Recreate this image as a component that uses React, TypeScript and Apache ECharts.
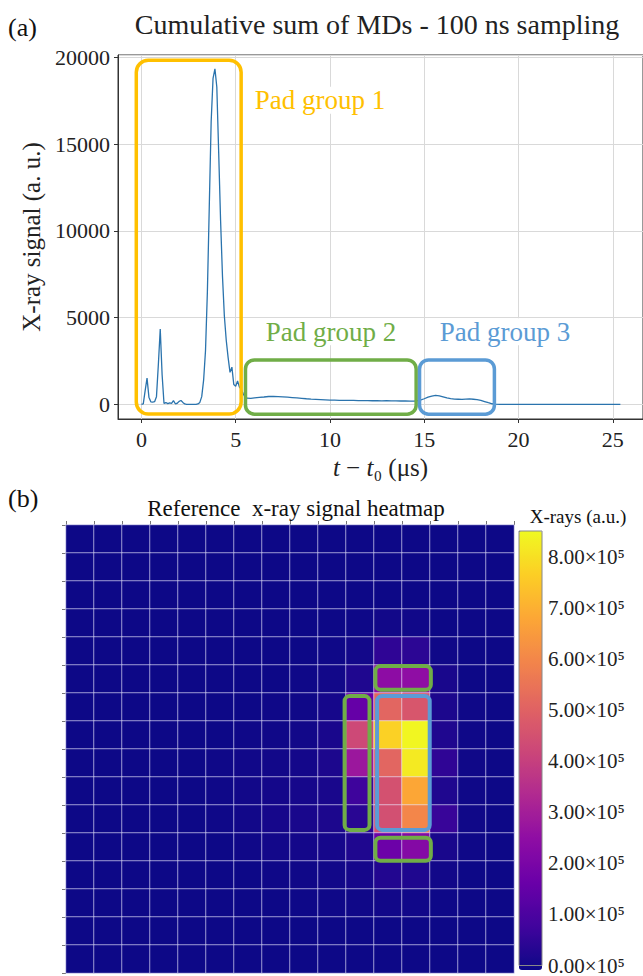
import React, { useEffect, useRef } from "react";
import * as echarts from "echarts";

const FONT = "Liberation Serif";

// ---- (a) cumulative sum of MDs, 100 ns sampling ----
const timeUs = [
  0.0, 0.1, 0.2, 0.3, 0.4, 0.5, 0.6, 0.7, 0.8, 0.9,
  1.0, 1.1, 1.2, 1.3, 1.4, 1.5, 1.6, 1.7, 1.8, 1.9,
  2.0, 2.1, 2.2, 2.3, 2.4, 2.5, 2.6, 2.7, 2.8, 2.9,
  3.0, 3.1, 3.2, 3.3, 3.4, 3.5, 3.6, 3.7, 3.8, 3.9,
  4.0, 4.1, 4.2, 4.3, 4.4, 4.5, 4.6, 4.7, 4.8, 4.9,
  5.0, 5.1, 5.2, 5.3, 5.4, 5.5, 5.6, 5.8, 6.0, 6.25,
  6.5, 6.75, 7.0, 7.25, 7.5, 7.75, 8.0, 8.25, 8.5, 8.75,
  9.0, 9.25, 9.5, 9.75, 10.0, 10.25, 10.5, 10.75, 11.0, 11.25,
  11.5, 11.75, 12.0, 12.25, 12.5, 12.75, 13.0, 13.25, 13.5, 13.75,
  14.0, 14.25, 14.5, 14.75, 15.0, 15.2, 15.4, 15.6, 15.8, 16.0,
  16.2, 16.4, 16.6, 16.8, 17.0, 17.2, 17.4, 17.6, 17.8, 18.0,
  18.2, 18.4, 18.6, 18.8, 19.0, 19.5, 20.0, 20.5, 21.0, 21.5,
  22.0, 22.5, 23.0, 23.5, 24.0, 24.5, 25.0, 25.4,
];
const xraySignal = [
  0, 30, 800, 1520, 420, 150, 130, 160, 450, 2300,
  4350, 1700, 60, 110, 50, 90, 60, 220, 40, 70,
  180, 230, 120, 30, 10, 0, 0, 10, 0, 0,
  30, 120, 450, 1400, 3100, 6500, 11400, 16300, 18800, 19350,
  18300, 14500, 10600, 7400, 5100, 3700, 2700, 1850, 2150, 1150,
  1050, 1350, 1000, 870, 620, 420, 360, 350, 380, 410,
  430, 460, 470, 455, 440, 420, 400, 380, 355, 330,
  310, 295, 280, 265, 250, 245, 240, 235, 230, 235,
  225, 220, 225, 215, 220, 210, 215, 205, 210, 200,
  205, 195, 200, 230, 330, 420, 480, 520, 500, 440,
  380, 340, 310, 300, 290, 310, 320, 300, 280, 240,
  170, 100, 40, 15, 5, 0, 0, 0, 0, 0,
  0, 0, 0, 0, 0, 0, 0, 0,
];
const timeTicks = [0, 5, 10, 15, 20, 25];
const signalTicks = [0, 5000, 10000, 15000, 20000];

// pad-group annotation boxes in data units: [t0, t1, vTop, vBottom]
const padGroupNames = ["Pad group 1", "Pad group 2", "Pad group 3"];
const padGroupColors = ["#FFC000", "#70AD47", "#5B9BD5"];
const padGroupBoxes = [
  [-0.27, 5.29, 19840, -550],
  [5.52, 14.57, 2570, -560],
  [14.75, 18.72, 2570, -560],
];
const padGroupLabelAt = [
  [5.91, 17540],
  [6.49, 4190],
  [15.72, 4190],
];

// ---- (b) reference x-ray heatmap, 16 x 16 pads, values in units of 1e5 ----
const padCols = ["0", "1", "2", "3", "4", "5", "6", "7", "8", "9", "10", "11", "12", "13", "14", "15"];
const padRows = ["0", "1", "2", "3", "4", "5", "6", "7", "8", "9", "10", "11", "12", "13", "14", "15"];
const xrayCells = [
  [0, 0, 0, 0, 0, 0, 0, 0, 0, 0, 0, 0, 0, 0, 0, 0],
  [0, 0, 0, 0, 0, 0, 0, 0, 0, 0, 0, 0, 0, 0, 0, 0],
  [0, 0, 0, 0, 0, 0, 0, 0, 0, 0, 0, 0, 0, 0, 0, 0],
  [0, 0, 0, 0, 0, 0, 0, 0, 0, 0, 0.02, 0.08, 0.06, 0, 0, 0],
  [0, 0, 0, 0, 0, 0, 0, 0, 0, 0.03, 0.1, 0.55, 0.5, 0.05, 0, 0],
  [0, 0, 0, 0, 0, 0, 0, 0, 0.03, 0.08, 0.3, 2.5, 2.55, 0.2, 0, 0],
  [0, 0, 0, 0, 0, 0, 0, 0.03, 0.05, 0.15, 1.6, 5.15, 4.7, 0.25, 0.03, 0],
  [0, 0, 0, 0, 0, 0, 0.04, 0.05, 0.08, 0.2, 4.3, 7.7, 8.45, 0.3, 0.04, 0],
  [0, 0, 0, 0, 0, 0.03, 0.06, 0.08, 0.12, 0.25, 2.85, 5.15, 8.2, 0.55, 0.05, 0],
  [0, 0, 0, 0, 0, 0.03, 0.08, 0.12, 0.15, 0.2, 0.8, 4.55, 6.8, 0.3, 0.04, 0],
  [0, 0, 0, 0, 0, 0.03, 0.08, 0.15, 0.2, 0.25, 0.45, 4.5, 6.0, 0.7, 0.05, 0],
  [0, 0, 0, 0, 0, 0, 0.05, 0.1, 0.12, 0.15, 0.3, 1.75, 2.3, 0.2, 0.03, 0],
  [0, 0, 0, 0, 0, 0, 0, 0.04, 0.05, 0.08, 0.15, 0.35, 0.3, 0.08, 0, 0],
  [0, 0, 0, 0, 0, 0, 0, 0, 0.02, 0.03, 0.05, 0.08, 0.06, 0.02, 0, 0],
  [0, 0, 0, 0, 0, 0, 0, 0, 0, 0, 0, 0, 0, 0, 0, 0],
  [0, 0, 0, 0, 0, 0, 0, 0, 0, 0, 0, 0, 0, 0, 0, 0],
];
const colorbarMax = 8.5;
const colorbarTicks = [0, 1, 2, 3, 4, 5, 6, 7, 8];
const plasma = [
  "#0d0887", "#41049d", "#6a00a8", "#8f0da4", "#b12a90", "#cc4778",
  "#e16462", "#f2844b", "#fca636", "#fcce25", "#f0f921",
];
// heatmap boxes in cell units: [col0, col1, row0, row1, colorIndex]
const heatBoxes = [
  [11.05, 13.03, 5.04, 5.88, 1],
  [9.95, 10.84, 6.11, 10.89, 1],
  [11.11, 12.99, 6.11, 10.89, 2],
  [11.05, 13.03, 11.17, 11.99, 1],
];

export default function App() {
  const ref = useRef<HTMLDivElement>(null);
  useEffect(() => {
    const chart = echarts.init(ref.current!, null, { renderer: "svg" });
    const heatData: number[][] = [];
    xrayCells.forEach((row, r) => row.forEach((v, c) => heatData.push([c, r, v])));
    const axisFont = { fontFamily: FONT, fontSize: 22, color: "#222" };
    chart.setOption({
      animation: false,
      backgroundColor: "#fff",
      textStyle: { fontFamily: FONT },
      grid: [
        { left: 118, top: 55, width: 527, height: 364, show: true, borderColor: "#333", borderWidth: 1 },
        { left: 66, top: 525, width: 448, height: 448 },
        { left: 519, top: 531, width: 23, height: 439 },
      ],
      xAxis: [
        {
          gridIndex: 0, type: "value", min: -1.24, max: 26.6,
          axisLine: { show: true, onZero: false, lineStyle: { color: "#333" } },
          axisTick: { show: true, length: 4, lineStyle: { color: "#333" } },
          axisLabel: {
            ...axisFont, margin: 9, showMinLabel: false, showMaxLabel: false,
            formatter: (v: number) => (timeTicks.includes(v) ? String(v) : ""),
          },
          splitLine: { show: true, lineStyle: { color: "#d9d9d9", width: 1 } },
          name: "{i|t} − {i|t}₀ (μs)",
          nameLocation: "middle", nameGap: 36,
          nameTextStyle: { fontFamily: FONT, fontSize: 25, color: "#222", rich: { i: { fontFamily: FONT, fontSize: 25, fontStyle: "italic", color: "#222" } } },
        },
        {
          gridIndex: 1, type: "category", data: padCols, position: "top",
          axisLine: { show: false }, axisLabel: { show: false },
          axisTick: { show: true, length: 4, lineStyle: { color: "#777" } },
          splitLine: { show: false },
        },
        { gridIndex: 2, type: "value", min: 0, max: 1, show: false },
      ],
      yAxis: [
        {
          gridIndex: 0, type: "value", min: -838, max: 20145,
          axisLine: { show: true, onZero: false, lineStyle: { color: "#333" } },
          axisTick: { show: true, length: 4, lineStyle: { color: "#333" } },
          axisLabel: {
            ...axisFont, margin: 8, showMinLabel: false, showMaxLabel: false,
            formatter: (v: number) => (signalTicks.includes(v) ? String(v) : ""),
          },
          splitLine: { show: true, lineStyle: { color: "#d9d9d9", width: 1 } },
          name: "X-ray signal (a. u.)", nameLocation: "middle", nameGap: 72,
          nameTextStyle: { fontFamily: FONT, fontSize: 25, color: "#222" },
        },
        {
          gridIndex: 1, type: "category", data: padRows, inverse: true,
          axisLine: { show: false }, axisLabel: { show: false },
          axisTick: { show: true, length: 4, lineStyle: { color: "#777" } },
          splitLine: { show: false },
        },
        {
          gridIndex: 2, type: "value", min: 0, max: colorbarMax, interval: 1, position: "right",
          axisLine: { show: false },
          axisTick: { show: true, length: 4, lineStyle: { color: "#555" } },
          axisLabel: {
            fontFamily: FONT, fontSize: 21, color: "#222", margin: 6,
            formatter: (v: number) => (colorbarTicks.includes(v) ? v.toFixed(2) + "×10⁵" : ""),
          },
          splitLine: { show: false },
        },
      ],
      visualMap: {
        type: "continuous", min: 0, max: colorbarMax, seriesIndex: 1,
        left: 519, top: 531, itemWidth: 23, itemHeight: 439, padding: 0,
        calculable: false, hoverLink: false, inRange: { color: plasma },
      },
      series: [
        {
          type: "line", xAxisIndex: 0, yAxisIndex: 0, showSymbol: false,
          data: timeUs.map((t, i) => [t, xraySignal[i]]),
          lineStyle: { color: "#2a73ad", width: 1.3 }, z: 3,
        },
        {
          type: "heatmap", xAxisIndex: 1, yAxisIndex: 1, data: heatData,
          itemStyle: { borderColor: "rgba(235,235,255,0.6)", borderWidth: 1 },
        },
      ],
    });

    const g: any[] = [];
    padGroupBoxes.forEach((b, i) => {
      const p0 = chart.convertToPixel({ xAxisIndex: 0, yAxisIndex: 0 }, [b[0], b[2]]) as number[];
      const p1 = chart.convertToPixel({ xAxisIndex: 0, yAxisIndex: 0 }, [b[1], b[3]]) as number[];
      g.push({
        type: "rect", z: 10,
        shape: { x: p0[0], y: p0[1], width: p1[0] - p0[0], height: p1[1] - p0[1], r: i === 0 ? 12 : 9 },
        style: { fill: "none", stroke: padGroupColors[i], lineWidth: 3.5 },
      });
      const lp = chart.convertToPixel({ xAxisIndex: 0, yAxisIndex: 0 }, padGroupLabelAt[i]) as number[];
      g.push({
        type: "text", z: 9, x: lp[0], y: lp[1],
        style: {
          text: padGroupNames[i], fill: padGroupColors[i], fontFamily: FONT, fontSize: 27,
          align: "left", verticalAlign: "middle", backgroundColor: "#fff", padding: [0, 2],
        },
      });
    });
    const c0 = chart.convertToPixel({ xAxisIndex: 1, yAxisIndex: 1 }, [0, 0]) as number[];
    const c1 = chart.convertToPixel({ xAxisIndex: 1, yAxisIndex: 1 }, [1, 1]) as number[];
    const cw = c1[0] - c0[0];
    const ch = c1[1] - c0[1];
    const ox = c0[0] - cw / 2;
    const oy = c0[1] - ch / 2;
    heatBoxes.forEach((b) => {
      g.push({
        type: "rect", z: 10,
        shape: { x: ox + b[0] * cw, y: oy + b[2] * ch, width: (b[1] - b[0]) * cw, height: (b[3] - b[2]) * ch, r: 5 },
        style: { fill: "none", stroke: padGroupColors[b[4]], lineWidth: 4 },
      });
    });
    const k0 = chart.convertToPixel({ xAxisIndex: 2, yAxisIndex: 2 }, [0, colorbarMax]) as number[];
    const k1 = chart.convertToPixel({ xAxisIndex: 2, yAxisIndex: 2 }, [1, 0]) as number[];
    g.push({
      type: "rect", z: 10,
      shape: { x: k0[0], y: k0[1], width: k1[0] - k0[0], height: k1[1] - k0[1] },
      style: { fill: "none", stroke: "#888", lineWidth: 1 },
    });
    g.push(
      { type: "text", x: 8, y: 27, style: { text: "(a)", fontFamily: FONT, fontSize: 26, fill: "#111", verticalAlign: "middle" } },
      { type: "text", x: 377, y: 24, style: { text: "Cumulative sum of MDs - 100 ns sampling", fontFamily: FONT, fontSize: 28, fill: "#222", align: "center", verticalAlign: "middle" } },
      { type: "text", x: 8, y: 498, style: { text: "(b)", fontFamily: FONT, fontSize: 26, fill: "#111", verticalAlign: "middle" } },
      { type: "text", x: 296, y: 508, style: { text: "Reference  x-ray signal heatmap", fontFamily: FONT, fontSize: 23, fill: "#111", align: "center", verticalAlign: "middle" } },
      { type: "text", x: 578, y: 516, style: { text: "X-rays (a.u.)", fontFamily: FONT, fontSize: 19, fill: "#111", align: "center", verticalAlign: "middle" } },
    );
    chart.setOption({ graphic: g });
    return () => chart.dispose();
  }, []);
  return (
    <div
      ref={ref}
      style={{ position: "fixed", left: 0, top: 0, width: 643, height: 976, background: "#fff" }}
    />
  );
}
